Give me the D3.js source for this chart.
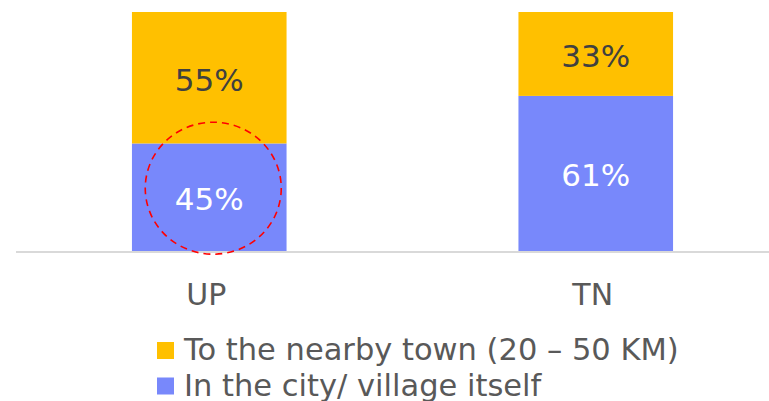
<!DOCTYPE html>
<html>
<head>
<meta charset="utf-8">
<script src="https://cdn.jsdelivr.net/npm/d3@7"></script>
<style>
  html, body { margin: 0; padding: 0; background: #fff; }
  svg { display: block; font-family: "DejaVu Sans", Verdana, sans-serif; }
</style>
</head>
<body>
<svg id="chart" width="769" height="401"></svg>
<script>
// data
var regions = ['UP', 'TN'];
var seriesKeys = ['city', 'town'];
var seriesLabels = ['In the city/ village itself', 'To the nearby town (20 \u2013 50 KM)'];
var cityValues = [45, 61];
var townValues = [55, 33];

var colors = { city: '#7888FB', town: '#FFC000' };
var labelColors = { city: '#ffffff', town: '#404040' };

var rows = regions.map(function (r, i) {
  return { region: r, city: cityValues[i], town: townValues[i] };
});

var svg = d3.select('#chart');

// 100% stacked — each bar is normalized to its own total
var stack = d3.stack().keys(seriesKeys).offset(d3.stackOffsetExpand);
var layers = stack(rows);

var x = d3.scaleBand()
  .domain(regions)
  .range([16, 789])
  .paddingInner(0.6)
  .paddingOuter(0.3);

var y = d3.scaleLinear().domain([0, 1]).range([251, 12]);

var layer = svg.append('g')
  .selectAll('g')
  .data(layers)
  .join('g')
    .attr('fill', function (d) { return colors[d.key]; });

layer.selectAll('rect')
  .data(function (d) { return d; })
  .join('rect')
    .attr('x', function (d) { return x(d.data.region); })
    .attr('width', x.bandwidth())
    .attr('y', function (d) { return y(d[1]); })
    .attr('height', function (d) { return y(d[0]) - y(d[1]); });

// data labels
layers.forEach(function (l) {
  svg.append('g')
    .selectAll('text')
    .data(l)
    .join('text')
      .attr('x', function (d) { return x(d.data.region) + x.bandwidth() / 2; })
      .attr('y', function (d) { return (y(d[0]) + y(d[1])) / 2 + 13; })
      .attr('text-anchor', 'middle')
      .attr('font-size', '31px')
      .attr('fill', labelColors[l.key])
      .text(function (d) { return d.data[l.key] + '%'; });
});

// baseline
svg.append('line')
  .attr('x1', x.range()[0])
  .attr('x2', x.range()[1])
  .attr('y1', y(0) + 1)
  .attr('y2', y(0) + 1)
  .attr('stroke', '#d9d9d9')
  .attr('stroke-width', 2);

// category labels
svg.append('g')
  .selectAll('text')
  .data(regions)
  .join('text')
    .attr('x', function (d) { return x(d) + x.bandwidth() / 2 - 3; })
    .attr('y', 305)
    .attr('text-anchor', 'middle')
    .attr('font-size', '30px')
    .attr('fill', '#595959')
    .text(function (d) { return d; });

// red dashed highlight around UP city segment
var up = layers[0][0];
svg.append('ellipse')
  .attr('cx', x('UP') + x.bandwidth() / 2 + 4)
  .attr('cy', (y(up[0]) + y(up[1])) / 2 - 9)
  .attr('rx', 68)
  .attr('ry', 66)
  .attr('fill', 'none')
  .attr('stroke', '#ff0000')
  .attr('stroke-width', 1.6)
  .attr('stroke-dasharray', '7,5');

// legend (town first, then city)
var legendOrder = ['town', 'city'];
var legend = svg.append('g')
  .selectAll('g')
  .data(legendOrder)
  .join('g')
    .attr('transform', function (d, i) { return 'translate(157,' + (342 + i * 35.5) + ')'; });

legend.append('rect')
  .attr('width', 17)
  .attr('height', 17)
  .attr('fill', function (d) { return colors[d]; });

legend.append('text')
  .attr('x', 27)
  .attr('y', 18)
  .attr('font-size', '30.5px')
  .attr('fill', '#595959')
  .text(function (d) { return seriesLabels[seriesKeys.indexOf(d)]; });
</script>
</body>
</html>
